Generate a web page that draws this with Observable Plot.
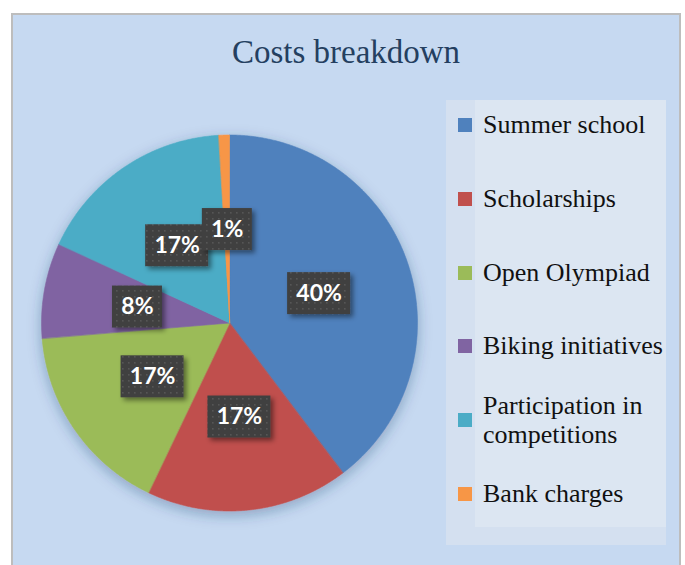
<!DOCTYPE html>
<html>
<head>
<meta charset="utf-8">
<script src="https://cdn.jsdelivr.net/npm/d3@7"></script>
<script src="https://cdn.jsdelivr.net/npm/@observablehq/plot@0.6"></script>
<style>
  html, body { margin: 0; padding: 0; background: #ffffff; }
  body { width: 685px; height: 565px; position: relative; overflow: hidden; }
  #frame { position: absolute; left: 11px; top: 13px; width: 666px; height: 600px;
           background: #c6d9f1; border: 2px solid #bdbdbd; }
  #title { position: absolute; left: 0; width: 692px; top: 36px; text-align: center;
           font-family: "Liberation Serif", serif; font-size: 33px; line-height: 33px; color: #243f60; }
  #chart { position: absolute; left: 0; top: 0; }
  .lgbox { position: absolute; }
  .item { position: absolute; left: 458px; display: flex; align-items: center;
          font-family: "Liberation Serif", serif; font-size: 26px; color: #111; }
  .sw { width: 14px; height: 14px; margin-right: 11px; flex: none; }
</style>
</head>
<body>
<div id="frame"></div>
<div id="title">Costs breakdown</div>
<div class="lgbox" style="left:446px;top:100px;width:220px;height:445px;background:#d4e0f0"></div>
<div class="lgbox" style="left:475px;top:100px;width:191px;height:427px;background:#dce6f2"></div>
<div id="legend"></div>
<div id="chart"></div>
<script>
const categories = ["Summer school", "Scholarships", "Open Olympiad", "Biking initiatives", "Participation in competitions", "Bank charges"];
const legendLines = [["Summer school"], ["Scholarships"], ["Open Olympiad"], ["Biking initiatives"], ["Participation in", "competitions"], ["Bank charges"]];
const values = [39.7, 17.4, 16.6, 8.2, 17.2, 0.9];
const colors = ["#4f81bd", "#c0504d", "#9bbb59", "#8064a2", "#4bacc6", "#f79646"];

// layout constants
const R = 188, CX = 229.5, CY = 323;

const total = d3.sum(values);
const arcs = d3.pie().sort(null).value(d => d)(values);

// slice outlines (arc points; the area closes back to the centre)
const slicePts = [];
arcs.forEach((a, i) => {
  const cat = categories[i];
  const n = Math.max(2, Math.ceil((a.endAngle - a.startAngle) / 0.005));
  for (let k = 0; k <= n; k++) {
    const t = a.startAngle + (a.endAngle - a.startAngle) * k / n;
    slicePts.push({cat, x: Math.sin(t), y: -Math.cos(t)});
  }
});

// labels
const labels = arcs.map((a, i) => {
  const m = (a.startAngle + a.endAngle) / 2;
  const text = Math.round(values[i] / total * 100) + "%";
  const w = (24 + 13 * text.length) / R, h = 42 / R;
  const x = 0.5 * Math.sin(m), y = -0.5 * Math.cos(m);
  return {cat: categories[i], text, x, y, x1: x - w / 2, x2: x + w / 2, y1: y - h / 2, y2: y + h / 2};
});

const svg = Plot.plot({
  width: 685,
  height: 565,
  margin: 0,
  style: {background: "transparent", overflow: "visible"},
  x: {domain: [-1, 1], range: [CX - R, CX + R], axis: null},
  y: {domain: [-1, 1], range: [CY - R, CY + R], axis: null},
  color: {domain: categories, range: colors},
  marks: [
    Plot.area(slicePts, {x1: "x", y1: "y", x2: () => 0, y2: () => 0, z: "cat", fill: "cat", stroke: "cat", strokeWidth: 0.6}),
    Plot.rect(labels, {x1: "x1", x2: "x2", y1: "y1", y2: "y2", fill: "url(#dots)"}),
    Plot.text(labels, {x: "x", y: "y", text: "text", fill: "white", fontSize: 23, fontWeight: "bold", fontFamily: "Lato, 'Open Sans', sans-serif"})
  ]
});

const s = d3.select(svg);
const defs = s.insert("defs", ":first-child");
const pat = defs.append("pattern").attr("id", "dots").attr("width", 6).attr("height", 6).attr("patternUnits", "userSpaceOnUse");
pat.append("rect").attr("width", 6).attr("height", 6).attr("fill", "#404040");
pat.append("rect").attr("x", 2).attr("y", 2).attr("width", 1.6).attr("height", 1.6).attr("fill", "#575757");
const f1 = defs.append("filter").attr("id", "pieShadow").attr("filterUnits", "userSpaceOnUse")
  .attr("x", 0).attr("y", 100).attr("width", 460).attr("height", 460);
f1.append("feDropShadow").attr("dx", 0).attr("dy", 4).attr("stdDeviation", 7).attr("flood-color", "#1f3d66").attr("flood-opacity", 0.35);
const f2 = defs.append("filter").attr("id", "boxShadow").attr("x", "-30%").attr("y", "-30%").attr("width", "160%").attr("height", "160%");
f2.append("feDropShadow").attr("dx", 3).attr("dy", 3).attr("stdDeviation", 2.5).attr("flood-color", "#000").attr("flood-opacity", 0.45);
s.select("g[aria-label='area']").attr("filter", "url(#pieShadow)");
s.selectAll("g[aria-label='rect'] rect").attr("filter", "url(#boxShadow)");

document.getElementById("chart").appendChild(svg);

// legend
const legend = document.getElementById("legend");
categories.forEach((c, i) => {
  const lines = legendLines[i];
  const cy = 125 + i * 73.8;
  const lh = lines.length > 1 ? 29 : 26;
  const hgt = lh * lines.length;
  const item = document.createElement("div");
  item.className = "item";
  item.style.top = (cy - hgt / 2) + "px";
  item.style.lineHeight = lh + "px";
  const sw = document.createElement("div");
  sw.className = "sw";
  sw.style.background = colors[i];
  const tx = document.createElement("div");
  tx.innerHTML = lines.join("<br>");
  item.appendChild(sw);
  item.appendChild(tx);
  legend.appendChild(item);
});
</script>
</body>
</html>
